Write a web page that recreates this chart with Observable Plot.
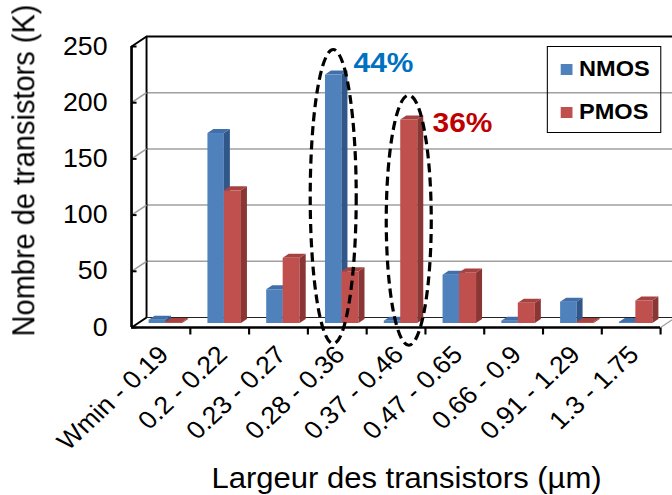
<!DOCTYPE html>
<html>
<head>
<meta charset="utf-8">
<script src="https://cdn.jsdelivr.net/npm/d3@7"></script>
<script src="https://cdn.jsdelivr.net/npm/@observablehq/plot@0.6"></script>
<style>
  html, body { margin: 0; padding: 0; background: #fff; overflow: hidden; }
  #wrap { position: relative; font-family: "Liberation Sans", Arial, sans-serif; transform-origin: 0 0; }
  #legend { position: absolute; border: 1.5px solid #000; background: transparent; box-sizing: border-box; }
  #legend .row { position: absolute; display: flex; align-items: center; font-weight: bold; font-size: 22px; color: #000; line-height: 1; }
  #legend .sw { display: inline-block; }
</style>
</head>
<body>
<div id="wrap"></div>
<script>
// ---------- data ----------
const categories = ["Wmin - 0.19", "0.2 - 0.22", "0.23 - 0.27", "0.28 - 0.36", "0.37 - 0.46", "0.47 - 0.65", "0.66 - 0.9", "0.91 - 1.29", "1.3 - 1.75"];
const nmos = [3, 169, 30, 221, 2, 43, 2, 19, 1];
const pmos = [1, 118, 58, 46, 181, 45, 18, 1, 20];
const seriesNames = ["NMOS", "PMOS"];
const yTicks = [0, 50, 100, 150, 200, 250];
const yTitle = "Nombre de transistors (K)";
const xTitle = "Largeur des transistors (µm)";
const annotations = [
  {text: "44%", color: "#0070C0"},
  {text: "36%", color: "#C00000"}
];

// ---------- layout (reference is horizontally stretched by SX) ----------
const SX = 1.07;
const W = Math.round(672 / SX), H = 495;
const mL = 131 / SX, mR = W - 660 / SX, mT = 46, mB = 168;
const pxX = (W - mL - mR) / categories.length;
const pxY = (H - mT - mB) / 250;
const WDXp = 15 / SX, WDYp = 10;          // back wall depth (px)
const WDX = WDXp / pxX, WDY = WDYp / pxY; // back wall depth (data units)
const BDX = (6 / SX) / pxX, BDY = 4 / pxY; // bar depth (data units)
const BASE_DY = -4;

const styles = {
  NMOS: {front: "#4F81BD", side: "#30578A", top: "#406FAA", x1: 0.30, x2: 0.58},
  PMOS: {front: "#C0504D", side: "#8A3634", top: "#A64340", x1: 0.58, x2: 0.87}
};

const bars = [];
seriesNames.forEach((s, si) => {
  const vals = si === 0 ? nmos : pmos;
  vals.forEach((v, i) => bars.push({series: s, i, v, x1: i + styles[s].x1, x2: i + styles[s].x2, id: s + i}));
});

function barMarks(s) {
  const b = bars.filter(d => d.series === s);
  const st = styles[s];
  const side = b.flatMap(d => [
    {id: d.id, x: d.x2, y1: 0, y2: d.v},
    {id: d.id, x: d.x2 + BDX, y1: BDY, y2: d.v + BDY}
  ]);
  const top = b.flatMap(d => [
    {id: d.id, y: d.v, x1: d.x1, x2: d.x2},
    {id: d.id, y: d.v + BDY, x1: d.x1 + BDX, x2: d.x2 + BDX}
  ]);
  return [
    Plot.rect(b, {x1: "x1", x2: "x2", y1: 0, y2: "v", fill: st.front, dy: BASE_DY}),
    Plot.area(side, {x1: "x", y1: "y1", y2: "y2", z: "id", fill: st.side, dy: BASE_DY}),
    Plot.area(top, {x1: "x1", x2: "x2", y1: "y", z: "id", fill: st.top, dy: BASE_DY})
  ];
}

const font = "Liberation Sans, Arial, sans-serif";

const chart = Plot.plot({
  width: W, height: H,
  marginLeft: mL, marginRight: mR, marginTop: mT, marginBottom: mB,
  style: {fontFamily: font, background: "#fff", overflow: "visible"},
  x: {type: "linear", domain: [0, categories.length], axis: null},
  y: {type: "linear", domain: [0, 250], axis: null},
  marks: [
    // back wall grid
    Plot.ruleY(yTicks.filter(t => t > 0 && t < 250), {dx: WDXp, dy: -WDYp, stroke: "#A0A0A0", strokeWidth: 1.5}),
    Plot.ruleY([250], {dx: WDXp, dy: -WDYp, stroke: "#000", strokeWidth: 2}),
    Plot.ruleY([0], {dx: WDXp, dy: -WDYp, stroke: "#222", strokeWidth: 1.2}),
    Plot.ruleX([0], {y1: 0, y2: 250, dx: WDXp, dy: -WDYp, stroke: "#000", strokeWidth: 1.8}),
    // side wall grid
    Plot.link(yTicks.filter(t => t > 0 && t < 250), {x1: 0, x2: WDX, y1: d => d, y2: d => d + WDY, stroke: "#A0A0A0", strokeWidth: 1.5}),
    Plot.link([0, 250], {x1: 0, x2: WDX, y1: d => d, y2: d => d + WDY, stroke: "#000", strokeWidth: 1.8}),
    Plot.link([categories.length], {x1: d => d, x2: d => d + WDX, y1: 0, y2: WDY, stroke: "#A0A0A0", strokeWidth: 1.2}),
    // bars
    ...barMarks("NMOS"),
    ...barMarks("PMOS"),
    // front axes
    Plot.ruleX([0], {y1: 0, y2: 250, stroke: "#000", strokeWidth: 2.5}),
    Plot.ruleY([0], {stroke: "#000", strokeWidth: 2.5}),
    Plot.link(yTicks, {x1: 0, x2: (5 / SX) / pxX, y1: d => d, y2: d => d, stroke: "#000", strokeWidth: 2}),
    Plot.link(d3.range(1, categories.length + 1), {x1: d => d, x2: d => d, y1: 0, y2: -7 / pxY, stroke: "#000", strokeWidth: 2}),
    // tick labels
    Plot.text(yTicks, {x: 0, y: d => d, dx: -24 / SX, textAnchor: "end", fontSize: 25, fill: "#000", text: d => String(d)}),
    Plot.text(categories, {x: (d, i) => i + 0.5, y: 0, text: d => d, rotate: -45, textAnchor: "end", lineAnchor: "middle", dx: 3 / SX, dy: 23, fontSize: 25, fill: "#000"}),
    // axis titles
    Plot.text([yTitle], {frameAnchor: "left", rotate: -90, textAnchor: "middle", lineAnchor: "middle", dx: (24 - 131) / SX, dy: -16.5, fontSize: 29, fill: "#000"}),
    Plot.text([xTitle], {frameAnchor: "bottom", textAnchor: "middle", lineAnchor: "middle", dx: 10.5 / SX, dy: 151, fontSize: 29, fill: "#000"}),
    // annotations
    Plot.text([annotations[0]], {x: 3 + (353 / SX - mL - 3 * pxX) / pxX, y: 235, text: "text", fill: "color", textAnchor: "start", lineAnchor: "middle", fontSize: 28, fontWeight: "bold"}),
    Plot.text([annotations[1]], {x: 4 + (432 / SX - mL - 4 * pxX) / pxX, y: 182, text: "text", fill: "color", textAnchor: "start", lineAnchor: "middle", fontSize: 28, fontWeight: "bold"})
  ]
});

// dashed ellipses around highlighted bars
const xs = chart.scale("x"), ys = chart.scale("y");
const svg = d3.select(chart);
[
  {cx: xs.apply(3 + 0.44), cy: ys.apply(116), rx: 23 / SX, ry: 147},
  {cx: xs.apply(4 + 0.725), cy: ys.apply(95), rx: 22.5 / SX, ry: 125}
].forEach(e => {
  svg.append("ellipse").attr("cx", e.cx).attr("cy", e.cy).attr("rx", e.rx).attr("ry", e.ry)
    .attr("fill", "none").attr("stroke", "#000").attr("stroke-width", 3).attr("stroke-dasharray", "9,5");
});

const wrap = document.getElementById("wrap");
wrap.style.width = W + "px";
wrap.style.height = H + "px";
wrap.style.transform = `scaleX(${672 / W})`;
wrap.appendChild(chart);

// legend (no fill: back-wall gridline shows through, as in the reference)
const legend = document.createElement("div");
legend.id = "legend";
legend.style.left = (547 / SX) + "px";
legend.style.top = "46px";
legend.style.width = (114 / SX) + "px";
legend.style.height = "87px";
seriesNames.forEach((s, k) => {
  const row = document.createElement("div");
  row.className = "row";
  row.style.left = (13 / SX) + "px";
  row.style.top = (k === 0 ? 11 : 54) + "px";
  const sw = document.createElement("span");
  sw.className = "sw";
  sw.style.width = (11 / SX) + "px";
  sw.style.height = "11px";
  sw.style.marginRight = (7 / SX) + "px";
  sw.style.background = styles[s].front;
  const t = document.createElement("span");
  t.textContent = s;
  row.appendChild(sw); row.appendChild(t);
  legend.appendChild(row);
});
wrap.appendChild(legend);
</script>
</body>
</html>
